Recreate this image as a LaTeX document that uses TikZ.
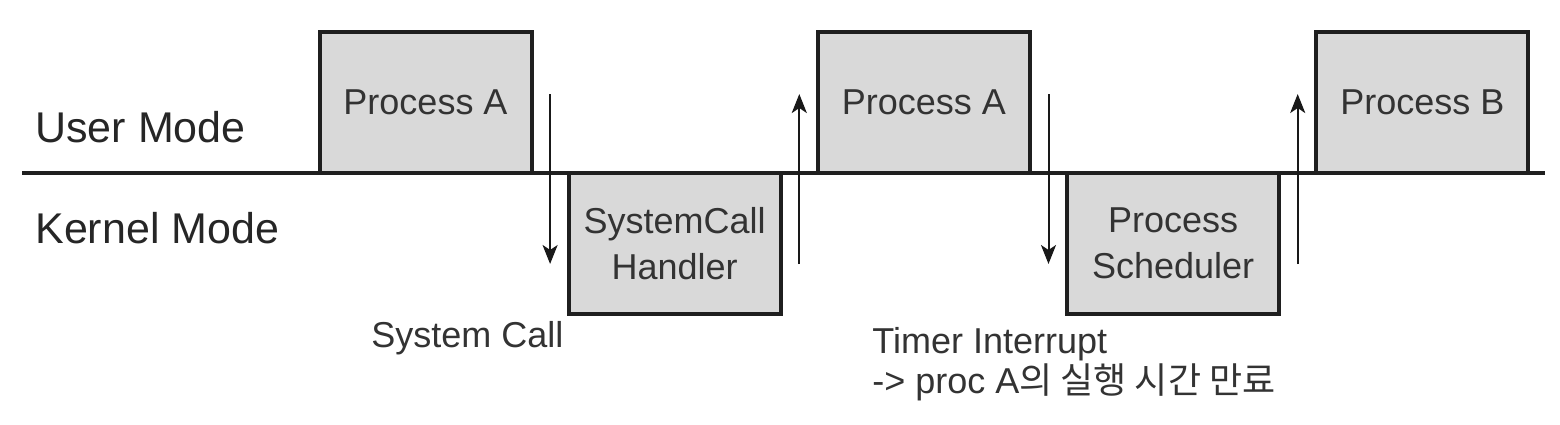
\documentclass[tikz,border=0pt]{standalone}
\usepackage{fontspec}
\setmainfont{Liberation Sans}
\newfontfamily\cjk{Noto Sans CJK KR}
\usetikzlibrary{positioning,calc,arrows.meta}

\begin{document}
\begin{tikzpicture}
[
    x=0.5pt, y=-0.5pt,
    box/.style={draw=black!88, line width=2pt, fill=black!15, outer sep=0pt, inner sep=0pt,
        minimum width=106pt, minimum height=70.5pt, align=center, text=black!80,
        font=\fontsize{18}{23}\selectfont},
    modelabel/.style={anchor=base west, inner sep=0pt, text=black!85, font=\fontsize{21.5}{26}\selectfont},
    eventlabel/.style={anchor=base west, inner sep=0pt, text=black!80, font=\fontsize{18}{20}\selectfont},
    switch/.style={draw=black!90, line width=1pt, -{Stealth[length=9.5pt, width=7.5pt, inset=2.5pt]}},
]
\useasboundingbox (0,0) rectangle (1560,424);
\coordinate (modeL) at (22,173);
\coordinate (modeR) at (1545,173);
\draw [draw=black!88, line width=2pt] (modeL) -- (modeR);
\node [box] (pa1) at (425.5,102.5) {Process A};
\node [box, below right=0pt and 18.6pt of pa1] (hdl) {SystemCall\\Handler};
\node [box, above right=0pt and 18.6pt of hdl] (pa2) {Process A};
\node [box, below right=0pt and 18.6pt of pa2] (sch) {Process\\Scheduler};
\node [box, above right=0pt and 18.6pt of sch] (pb) {Process B};
\draw [switch] ($(pa1.north east)+(9.3pt,-31pt)$) -- ($(hdl.south west)+(-9.3pt,25pt)$);
\draw [switch] ($(hdl.south east)+(9.3pt,25pt)$) -- ($(pa2.north west)+(-9.3pt,-31pt)$);
\draw [switch] ($(pa2.north east)+(9.3pt,-31pt)$) -- ($(sch.south west)+(-9.3pt,25pt)$);
\draw [switch] ($(sch.south east)+(9.3pt,25pt)$) -- ($(pb.north west)+(-9.3pt,-31pt)$);
\node [modelabel] (user) at (35,142) {User Mode};
\node [modelabel] (kernel) at (35,243) {Kernel Mode};
\node [eventlabel] (syscall) at (371,347) {System Call};
\node [eventlabel] (timer) at (872,353) {Timer Interrupt};
\node [eventlabel] (expire) at (872,393) {->{} proc A{\cjk 의 실행 시간 만료}};
\end{tikzpicture}
\end{document}
